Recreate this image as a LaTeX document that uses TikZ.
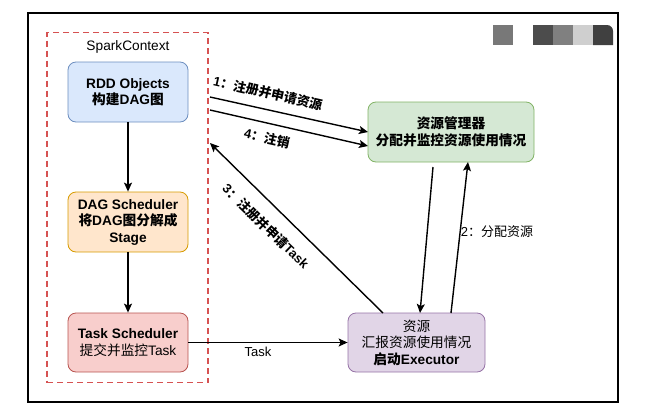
\documentclass[tikz,border=0pt]{standalone}
\usepackage{fontspec}
\setmainfont{Liberation Sans}
\newfontfamily\cjk{Noto Sans CJK SC}
\newcommand{\zh}[1]{{\cjk #1}}
\usetikzlibrary{arrows.meta}
\definecolor{bluef}{HTML}{DAE8FC}\definecolor{blued}{HTML}{6C8EBF}
\definecolor{orangef}{HTML}{FFE6CC}\definecolor{oranged}{HTML}{D79B00}
\definecolor{redf}{HTML}{F8CECC}\definecolor{redd}{HTML}{B85450}
\definecolor{greenf}{HTML}{D5E8D4}\definecolor{greend}{HTML}{82B366}
\definecolor{purplef}{HTML}{E1D5E7}\definecolor{purpled}{HTML}{9673A6}
\definecolor{dashred}{RGB}{214,82,82}
\begin{document}
\begin{tikzpicture}[x=1pt,y=-1pt,
  box/.style={draw, rounded corners=8pt, line width=0.8pt, minimum width=120pt, minimum height=59pt, align=center, inner sep=2pt, font=\fontsize{13.7}{16.5}\selectfont},
  arr/.style={line width=1.4pt, -{Stealth[length=9pt,width=8pt,inset=2pt]}},
  lbl/.style={font=\fontsize{13}{15}\selectfont, inner sep=1pt}]
\useasboundingbox (0,0) rectangle (667,410);
% outer frame
\draw[line width=1.2pt] (28,13) rectangle (618,402);
% grey blocks
\fill[black!53] (493,25) rectangle (513,45);
\fill[black!70] (533,25) rectangle (553,45);
\fill[black!50] (553,25) rectangle (573,45);
\fill[black!19] (573,25) rectangle (593,45);
\fill[black!75] (593,45) -- (593,25) -- (607,25) to[out=0,in=90] (613,31) -- (613,45) -- cycle;
% container
\node[draw=dashred, dashed, dash pattern=on 6pt off 4pt, line width=1.8pt, minimum width=161pt, minimum height=350pt, inner sep=0pt] (sc) at (127.5,207.5) {};
\node[font=\fontsize{13.7}{16}\selectfont] (sctitle) at (128,47) {SparkContext};
% boxes
\node[box, fill=bluef, draw=blued, minimum height=60pt] (rdd) at (128,92) {\textbf{RDD Objects}\\\textbf{\zh{构建}DAG\zh{图}}};
\node[box, fill=orangef, draw=oranged, minimum height=60pt] (dag) at (128,222) {\textbf{DAG Scheduler}\\\textbf{\zh{将}DAG\zh{图分解成}}\\\textbf{Stage}};
\node[box, fill=redf, draw=redd] (task) at (128,342.5) {\textbf{Task Scheduler}\\\zh{提交并监控}Task};
\node[box, fill=greenf, draw=greend, minimum width=166pt, minimum height=60pt] (rm) at (451,132) {\textbf{\zh{资源管理器}}\\\textbf{\zh{分配并监控资源使用情况}}};
\node[box, fill=purplef, draw=purpled, minimum width=137pt] (ex) at (416.5,342.5) {\zh{资源}\\\zh{汇报资源使用情况}\\\textbf{\zh{启动}Executor}};
% connector anchors
\coordinate (s1) at (210,97);
\coordinate (s4) at (210,110);
\coordinate (e1) at (368,132);
\coordinate (e4) at (368,146);
\coordinate (t3) at (210,143);
\coordinate (o3) at (383,313);
\coordinate (d1) at (433,167);
\coordinate (d2) at (420,313);
\coordinate (u1) at (451,313);
\coordinate (u2) at (468,162);
% arrows
\draw[arr] (rdd) -- (dag);
\draw[arr] (dag) -- (task);
\draw[arr] (s1) -- (e1);
\draw[arr] (s4) -- (e4);
\draw[arr] (o3) -- (t3);
\draw[arr] (d1) -- (d2);
\draw[arr] (u1) -- (u2);
\draw[arr] (task.east) -- (ex.west |- task.east);
% labels
\node[lbl, rotate=-12.7] (l1) at (268,93) {\textbf{1\zh{：注册并申请资源}}};
\node[lbl, rotate=-12.7] (l4) at (267,138) {\textbf{4\zh{：注销}}};
\node[lbl, rotate=-44] (l3) at (266,226) {\textbf{3\zh{：注册并申请}Task}};
\node[lbl] (l2) at (497,232) {2\zh{：分配资源}};
\node[lbl] (lt) at (258,352) {Task};
\end{tikzpicture}
\end{document}
